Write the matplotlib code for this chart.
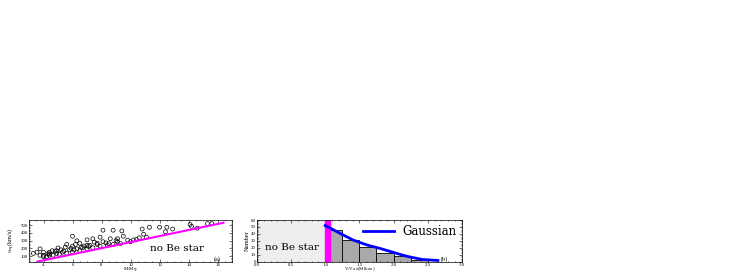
import matplotlib
matplotlib.use('Agg')
import matplotlib.pyplot as plt

plt.rcParams['font.family'] = ['Liberation Serif', 'DejaVu Serif']
plt.rcParams['mathtext.fontset'] = 'stix'

# panel (a): mass vs equatorial velocity
mass = [3.3, 3.55, 3.76, 3.76, 4.0, 4.0, 4.0, 4.2, 4.4, 4.4, 4.4, 4.66, 4.9,
        4.9, 5.1, 5.2, 5.3, 5.6, 5.6, 5.8, 6.0, 6.0, 6.0, 6.3, 6.3, 6.5,
        6.5, 6.7, 7.0, 7.0, 7.0, 7.2, 7.4, 7.4, 7.7, 7.9, 7.9, 8.1, 8.1,
        8.4, 8.6, 8.8, 8.8, 9.1, 9.1, 9.3, 9.4, 9.5, 9.8, 10.0, 10.2, 10.4,
        10.6, 10.8, 10.9, 11.1, 11.3, 12.0, 12.4, 12.5, 12.9, 14.1, 14.2,
        14.6, 15.3, 15.6, 5.0, 5.5, 6.2, 6.8, 7.5, 8.3, 9.0, 4.6, 5.9,
        4.3, 4.8, 5.4, 6.1, 6.6, 7.1, 7.7, 8.5]
vrot = [135, 150, 193, 111, 150, 111, 92, 92, 150, 111, 128, 111, 170,
        135, 123, 181, 150, 251, 135, 181, 228, 150, 356, 297, 193, 266,
        170, 208, 309, 193, 240, 239, 324, 208, 266, 344, 228, 434, 286,
        239, 324, 434, 251, 324, 286, 263, 425, 356, 306, 286, 309, 313,
        336, 449, 382, 344, 472, 472, 414, 472, 449, 507, 484,
        460, 519, 519, 205, 215, 250, 230, 280, 270, 300, 170, 200,
        130, 160, 165, 180, 215, 225, 250, 260]
limit_mass = [3.6, 16.4]
limit_v = [30, 530]

# panel (b): velocity ratio histogram
bin_edges = [1.0, 1.25, 1.5, 1.75, 2.0, 2.25, 2.5]
counts = [45, 31, 21, 13, 8, 2]
fit_x = [1.0, 1.1, 1.23, 1.41, 1.61, 1.80, 1.99, 2.09, 2.22, 2.42, 2.65]
fit_y = [52, 47, 40, 31, 24, 19, 13.5, 10.5, 7, 3, 1.5]

fig = plt.figure(figsize=(7.36, 2.73), dpi=100)
ax1 = fig.add_axes([0.0394, 0.042, 0.276, 0.152])
ax2 = fig.add_axes([0.349, 0.042, 0.2785, 0.152])

for ax in (ax1, ax2):
    ax.tick_params(which='both', direction='in', top=True, right=True,
                   labelsize=3.5, pad=0.8, width=0.4)
    ax.tick_params(which='major', length=2)
    ax.tick_params(which='minor', length=1)
    ax.minorticks_on()
    for s in ax.spines.values():
        s.set_linewidth(0.5)

ax1.scatter(mass, vrot, s=8, facecolors='none', edgecolors='k',
            linewidths=0.5, zorder=2)
ax1.plot(limit_mass, limit_v, color='#ff00ff', lw=1.5, zorder=3)
ax1.set_xlim(3, 17)
ax1.set_ylim(30, 565)
ax1.set_xticks([4, 6, 8, 10, 12, 14, 16])
ax1.set_yticks([100, 200, 300, 400, 500])
ax1.set_xlabel(r'M/M$_\odot$', fontsize=3.5, labelpad=-1)
ax1.set_ylabel(r'$v_{\rm eq}$(km/s)', fontsize=4.5, labelpad=3)
ax1.text(13.2, 196, 'no Be star', fontsize=7.5, ha='center', va='center',
         family='DejaVu Serif')
ax1.text(16.0, 65, '(a)', fontsize=4.5, ha='center', va='center')

ax2.axvspan(0, 1.0, color='#eeeeee', zorder=0)
widths = [bin_edges[i + 1] - bin_edges[i] for i in range(len(counts))]
ax2.bar(bin_edges[:-1], counts, width=widths, align='edge',
        color='#a9a9a9', edgecolor='k', linewidth=0.6, zorder=1)
ax2.axvspan(1.0, 1.07, color='#ff00ff', zorder=2)
ax2.plot(fit_x, fit_y, color='#0000ff', lw=2, zorder=3, label='Gaussian')
ax2.set_xlim(0, 3)
ax2.set_ylim(0, 60)
ax2.set_xticks([0, 0.5, 1.0, 1.5, 2.0, 2.5, 3.0])
ax2.set_xticklabels(['0.0', '0.5', '1.0', '1.5', '2.0', '2.5', '3.0'])
ax2.set_yticks([0, 10, 20, 30, 40, 50, 60])
ax2.set_xlabel(r'V/V$_{\rm crit}$(M$_{\rm Bestar}$)', fontsize=3.5,
               labelpad=-1)
ax2.set_ylabel('Number', fontsize=4.5, labelpad=1)
ax2.text(0.52, 20, 'no Be star', fontsize=7.5, ha='center', va='center',
         family='DejaVu Serif')
ax2.text(2.75, 4, '(b)', fontsize=4.5, ha='center', va='center')
ax2.legend(loc='upper right', prop={'family': 'DejaVu Serif', 'size': 8.5},
           frameon=False, handlelength=2.6, borderpad=0.15,
           handletextpad=0.7, borderaxespad=0.3)

fig.savefig('out.png', dpi=100)
